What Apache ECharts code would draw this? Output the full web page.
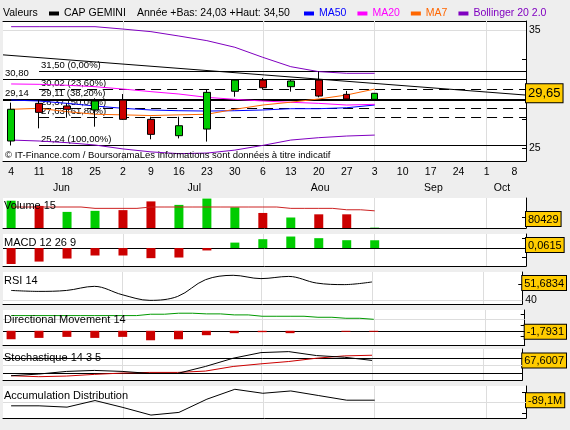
<!DOCTYPE html>
<html>
<head>
<meta charset="utf-8">
<script src="https://cdn.jsdelivr.net/npm/echarts@6/dist/echarts.min.js"></script>
<style>
html, body { margin: 0; padding: 0; background: #eeeeee; }
#chart { width: 570px; height: 430px; }
</style>
</head>
<body>
<div id="chart"></div>
<script>
// semaines affichées (lundi), juin -> octobre
const dayLabels = ['4', '11', '18', '25', '2', '9', '16', '23', '30', '6', '13', '20', '27', '3', '10', '17', '24', '1', '8']
const months = ['Jun', 'Jul', 'Aou', 'Sep', 'Oct']
const monthPos = [1.8, 6.55, 11.05, 15.1, 17.55]
const monthStarts = [4, 9, 13, 17]

// bougies hebdo CAP GEMINI
const open = [25.62, 28.80, 28.58, 28.24, 29.08, 27.45, 26.07, 26.63, 29.82, 30.77, 30.21, 30.77, 29.56, 29.14]
const close = [28.30, 28.04, 28.30, 29.00, 27.45, 26.18, 26.91, 29.73, 30.77, 30.12, 30.69, 29.42, 29.17, 29.65]
const low = [25.24, 26.69, 27.59, 26.83, 27.40, 25.76, 25.84, 25.57, 29.36, 29.95, 29.79, 29.31, 29.15, 29.10]
const high = [28.86, 29.08, 28.80, 29.23, 29.59, 27.67, 27.67, 29.93, 30.80, 30.95, 30.77, 31.50, 29.85, 29.67]

// moyennes mobiles / bollinger
const ma50 = [29.08, 29.00, 28.80, 28.58, 28.38, 28.24, 28.18, 28.15, 28.18, 28.24, 28.35, 28.35, 28.43, 28.66]
const ma20 = [30.44, 30.41, 30.33, 30.21, 30.01, 29.79, 29.59, 29.31, 29.14, 29.00, 28.89, 28.80, 28.66, 28.72]
const ma7 = [28.30, 28.38, 28.10, 27.88, 27.83, 27.77, 27.83, 27.88, 28.30, 28.66, 28.90, 29.17, 29.51, 30.01]
const bollUp = [35.28, 35.28, 35.28, 35.28, 35.08, 34.86, 34.49, 34.10, 33.54, 32.69, 31.90, 31.48, 31.34, 31.34]
const bollDown = [25.70, 25.62, 25.48, 25.28, 24.95, 24.70, 24.55, 24.60, 24.85, 25.25, 25.70, 25.90, 26.04, 26.12]

// niveaux tracés
const fibLevels = [31.50, 30.02, 29.11, 28.37, 27.63, 25.24]
const fibPct = ['0,00', '23,60', '38,20', '50,00', '61,80', '100,00']
const fibDashed = [false, true, true, true, true, false]
const supports = [30.80, 29.14]
const trend = [32.9, 29.5] // debut / fin de l'oblique

// indicateurs
const volume = [6190, 5000, 3650, 3890, 4050, 6030, 5240, 6670, 4680, 3410, 2380, 3100, 3100, 80.429] // en K
const volMa = [4760, 4760, 4760, 4450, 4450, 4760, 4760, 4760, 4760, 4760, 4450, 4450, 4130, 3890]
const macd = [-0.126, -0.107, -0.083, -0.059, -0.059, -0.080, -0.075, -0.019, 0.043, 0.070, 0.091, 0.078, 0.062, 0.0615]
const rsi = [46.3, 45.7, 46.3, 48.9, 43.6, 40.0, 42.5, 53.1, 55.9, 53.8, 55.2, 51.0, 50.0, 51.6834]
const dmHist = [-15, -12.6, -10.8, -12.6, -10.8, -16.8, -15, -7.8, -4.2, -2.4, -4.2, 0, -1.8, -1.7931]
const adx = [27, 27, 27, 27, 27, 29.4, 31.2, 30, 28.2, 25.8, 25.8, 24, 22.2, 20.4]
const stochK = [16.1, 21.7, 30.6, 33.9, 30.6, 23.9, 23.9, 47.2, 75, 93.9, 97.2, 83.9, 78.3, 67.6007]
const stochD = [16.1, 12.8, 15, 20.6, 25, 27.2, 27.2, 31.7, 47.2, 56.1, 63.9, 75, 82.8, 85]
const accDist = [-116.1, -116.1, -122.4, -90.7, -124.0, -160.5, -147.8, -84.3, -36.7, -55.8, -44.7, -66.9, -89.1, -89.1] // en M

const XMIN = -0.29
const XMAX = 18.41
const FONT = 'Liberation Sans'
const GREEN = '#00CC00'
const RED = '#CC0000'

const GRIDS = [
    { top: 21, height: 140 },
    { top: 198, height: 30 },
    { top: 234, height: 32 },
    { top: 272, height: 32 },
    { top: 310, height: 35 },
    { top: 349, height: 31 },
    { top: 386, height: 32 },
]

const fr = (v, d) => v.toFixed(d).replace('.', ',')
const last = (arr) => arr[arr.length - 1]
const pts = (arr) => arr.map((v, i) => [i, v])

const RICH = {
    t: { fontFamily: FONT, fontSize: 10.5, color: '#000', padding: [0, 0, 0, 3] },
    box: {
        fontFamily: FONT, fontSize: 11, color: '#000', backgroundColor: '#FFCC00',
        borderColor: '#000', borderWidth: 1, padding: [2, 2, 1, 2],
    },
    big: {
        fontFamily: FONT, fontSize: 13, color: '#000', backgroundColor: '#FFCC00',
        borderColor: '#000', borderWidth: 1, padding: [3, 2, 2, 2],
    },
}

// garde l'étiquette de la dernière valeur dans le panneau
function boxPos(v, min, max, h) {
    const ppu = h / (max - min)
    return Math.min(Math.max(v, min + 9 / ppu), max - 11 / ppu)
}

function xAxisFor(gi) {
    return {
        gridIndex: gi, type: 'value', min: XMIN, max: XMAX,
        axisLine: { show: true, onZero: false, lineStyle: { color: '#000', width: 1 } },
        axisTick: { show: false },
        axisLabel: { show: false },
        splitLine: { show: false },
    }
}

function yAxisFor(gi, p) {
    const pos = boxPos(p.box, p.min, p.max, GRIDS[gi].height)
    return {
        gridIndex: gi, type: 'value', position: 'right', min: p.min, max: p.max,
        axisLine: { show: true, onZero: false, lineStyle: { color: '#000' } },
        axisTick: { show: true, inside: true, length: 4, customValues: p.ticks, lineStyle: { color: '#000' } },
        axisLabel: {
            margin: 0,
            hideOverlap: false,
            customValues: p.labels.concat([pos]),
            formatter: (v) => {
                if (Math.abs(v - pos) < 1e-9) {
                    return `{${p.big ? 'big' : 'box'}|${p.boxText}}`
                }
                return `{t|${p.fmt ? p.fmt(v) : v}}`
            },
            rich: RICH,
        },
        splitLine: { show: false },
    }
}

const gray = { color: '#DDDDDD', width: 1, type: 'solid' }
const black = { color: '#000', width: 1, type: 'solid' }

function guides(gi, xi, lines) {
    return {
        type: 'line', xAxisIndex: xi, yAxisIndex: gi, data: [], silent: true, z: 1,
        markLine: {
            silent: true, symbol: 'none', animation: false, z: 1,
            label: { show: false },
            data: lines,
        },
    }
}

const vLines = monthStarts.map((v) => ({ xAxis: v, lineStyle: gray }))
const hLine = (v, style) => ({ yAxis: v, lineStyle: style })

// lignes du panneau principal
const mainLines = vLines.concat([hLine(35, gray)])
supports.forEach((s, i) => {
    mainLines.push({
        yAxis: s,
        lineStyle: { color: '#000', width: i === 1 ? 2 : 1, type: 'solid' },
        label: {
            show: true, position: 'insideStartTop', formatter: fr(s, 2),
            color: '#000', fontFamily: FONT, fontSize: 9.5, distance: [2, 1],
        },
    })
})
fibLevels.forEach((l, i) => {
    mainLines.push([
        {
            coord: [1, l],
            lineStyle: { color: '#000', width: 1, type: fibDashed[i] ? [10, 6] : 'solid' },
            label: {
                show: true, position: 'insideStartTop', formatter: `${fr(l, 2)} (${fibPct[i]}%)`,
                color: '#000', fontFamily: FONT, fontSize: 9.5, distance: [2, 1],
            },
        },
        { coord: [XMAX, l] },
    ])
})

// couleur du volume : hausse / baisse par rapport à la clôture précédente
const volColor = close.map((c, i) => (i === 0 ? c >= open[i] : c >= close[i - 1]) ? GREEN : RED)

const lineS = (name, xi, yi, data, color, extra) => Object.assign({
    name, type: 'line', xAxisIndex: xi, yAxisIndex: yi, data,
    symbol: 'none', lineStyle: { color, width: 1 }, itemStyle: { color }, z: 3,
}, extra || {})

const chart = echarts.init(document.getElementById('chart'))

const option = {
    animation: false,
    backgroundColor: '#EEEEEE',
    textStyle: { fontFamily: FONT },
    legend: [
        {
            left: 49, top: 8, padding: 0, itemWidth: 10, itemHeight: 4, itemGap: 12, selectedMode: false,
            textStyle: { fontSize: 10.5, color: '#000', fontFamily: FONT },
            data: [{ name: 'CAP GEMINI', icon: 'rect', itemStyle: { color: '#000', borderWidth: 0 } }],
        },
        {
            left: 304, top: 8, padding: 0, itemWidth: 10, itemHeight: 4, itemGap: 11, selectedMode: false,
            textStyle: { fontSize: 10.5, fontFamily: FONT },
            data: [
                { name: 'MA50', icon: 'rect', textStyle: { color: '#0000FF' } },
                { name: 'MA20', icon: 'rect', textStyle: { color: '#FF00FF' } },
                { name: 'MA7', icon: 'rect', textStyle: { color: '#FF6600' } },
                { name: 'Bollinger 20 2.0', icon: 'rect', textStyle: { color: '#8000C0' } },
            ],
        },
    ],
    grid: GRIDS.map((g) => ({
        left: 3, right: 44, top: g.top, height: g.height,
        show: true, backgroundColor: '#fff', borderWidth: 0,
    })),
    xAxis: [
        {
            gridIndex: 0, type: 'value', min: XMIN, max: XMAX, position: 'bottom',
            axisLine: { show: true, onZero: false, lineStyle: { color: '#000' } },
            axisTick: { show: false },
            axisLabel: {
                customValues: dayLabels.map((d, i) => i),
                formatter: (v) => dayLabels[Math.round(v)],
                margin: 6, fontSize: 10.5, color: '#000', fontFamily: FONT,
            },
            splitLine: { show: false },
        },
        {
            gridIndex: 0, type: 'value', min: XMIN, max: XMAX, position: 'bottom', offset: 16,
            axisLine: { show: false },
            axisTick: { show: false },
            axisLabel: {
                customValues: monthPos,
                formatter: (v) => months[monthPos.indexOf(v)],
                margin: 6, fontSize: 10.5, color: '#000', fontFamily: FONT,
            },
            splitLine: { show: false },
        },
        Object.assign(xAxisFor(0), { position: 'top' }),
        xAxisFor(1), xAxisFor(2), xAxisFor(3), xAxisFor(4), xAxisFor(5), xAxisFor(6),
    ],
    yAxis: [
        yAxisFor(0, {
            min: 23.93, max: 35.76, ticks: [25, 27.5, 30, 32.5, 35], labels: [25, 35],
            box: last(close), boxText: fr(last(close), 2), big: true,
        }),
        yAxisFor(1, {
            min: 0, max: 6800, ticks: [2500, 5000], labels: [5000], fmt: (v) => v + 'K',
            box: last(volume), boxText: String(Math.round(last(volume) * 1000)),
        }),
        yAxisFor(2, {
            min: -0.142, max: 0.111, ticks: [-0.075, 0, 0.075], labels: [],
            box: last(macd), boxText: fr(last(macd), 4),
        }),
        yAxisFor(3, {
            min: 37.7, max: 58, ticks: [40, 50], labels: [40],
            box: last(rsi), boxText: fr(last(rsi), 4),
        }),
        yAxisFor(4, {
            min: -25.2, max: 36.9, ticks: [-10, 0, 10, 20, 30], labels: [],
            box: last(dmHist), boxText: fr(last(dmHist), 4),
        }),
        yAxisFor(5, {
            min: 1.7, max: 106, ticks: [25, 50, 75], labels: [],
            box: last(stochK), boxText: fr(last(stochK), 4),
        }),
        yAxisFor(6, {
            min: -174.6, max: -20.9, ticks: [-150, -100, -50], labels: [],
            box: last(accDist), boxText: fr(last(accDist), 1) + 'M',
        }),
    ],
    series: [
        // repères
        guides(0, 0, mainLines),
        guides(1, 3, vLines.slice()),
        guides(2, 4, vLines.concat([hLine(0, black)])),
        guides(3, 5, vLines.concat([hLine(40, gray)])),
        guides(4, 6, vLines.concat([hLine(20, gray), hLine(0, black)])),
        guides(5, 7, vLines.concat([hLine(50, gray), hLine(75, black), hLine(25, black)])),
        guides(6, 8, vLines.concat([hLine(-100, gray)])),

        // panneau cours
        lineS('trend', 0, 0, [[XMIN, trend[0]], [XMAX, trend[1]]], '#000'),
        lineS('Bollinger 20 2.0', 0, 0, pts(bollUp), '#8000C0'),
        lineS('Bollinger 20 2.0', 0, 0, pts(bollDown), '#8000C0'),
        lineS('MA50', 0, 0, pts(ma50), '#0000FF'),
        lineS('MA20', 0, 0, pts(ma20), '#FF00FF'),
        lineS('MA7', 0, 0, pts(ma7), '#FF6600'),
        {
            name: 'CAP GEMINI', type: 'candlestick', xAxisIndex: 0, yAxisIndex: 0, z: 5,
            barWidth: 7,
            encode: { x: 0, y: [1, 2, 3, 4] },
            data: open.map((o, i) => [i, o, close[i], low[i], high[i]]),
            itemStyle: {
                color: GREEN, color0: RED,
                borderColor: '#000', borderColor0: '#000', borderWidth: 1,
            },
        },

        // volume
        {
            type: 'bar', xAxisIndex: 3, yAxisIndex: 1, barWidth: 9, z: 2,
            data: volume.map((v, i) => ({ value: [i, v], itemStyle: { color: volColor[i] } })),
        },
        lineS('Volume 15', 3, 1, pts(volMa), '#CC2222', { step: 'middle' }),

        // MACD
        {
            type: 'bar', xAxisIndex: 4, yAxisIndex: 2, barWidth: 9, z: 2,
            data: macd.map((v, i) => ({ value: [i, v], itemStyle: { color: v >= 0 ? GREEN : RED } })),
        },

        // RSI
        lineS('RSI 14', 5, 3, pts(rsi), '#000', { smooth: 0.35 }),

        // directional movement
        {
            type: 'bar', xAxisIndex: 6, yAxisIndex: 4, barWidth: 9, z: 2,
            data: dmHist.map((v, i) => ({ value: [i, v], itemStyle: { color: v >= 0 ? GREEN : RED } })),
        },
        lineS('ADX', 6, 4, pts(adx), '#009900', { step: 'middle' }),

        // stochastique
        lineS('%D', 7, 5, pts(stochD), '#CC0000'),
        lineS('%K', 7, 5, pts(stochK), '#000'),

        // accumulation distribution
        lineS('A/D', 8, 6, pts(accDist), '#000'),
    ],
    graphic: [
        { type: 'text', left: 3, top: 8, z: 100, style: { text: 'Valeurs', font: `10.5px "${FONT}"`, fill: '#000' } },
        { type: 'text', left: 137, top: 8, z: 100, style: { text: 'Année +Bas: 24,03 +Haut: 34,50', font: `10.5px "${FONT}"`, fill: '#000' } },
        {
            type: 'text', left: 5, top: 150, z: 100,
            style: { text: '© IT-Finance.com / BoursoramaLes informations sont données à titre indicatif', font: `9.5px "${FONT}"`, fill: '#000' },
        },
        { type: 'text', left: 4, top: 200, z: 100, style: { text: 'Volume 15', font: `11px "${FONT}"`, fill: '#000' } },
        { type: 'text', left: 4, top: 237, z: 100, style: { text: 'MACD 12 26 9', font: `11px "${FONT}"`, fill: '#000' } },
        { type: 'text', left: 4, top: 275, z: 100, style: { text: 'RSI 14', font: `11px "${FONT}"`, fill: '#000' } },
        { type: 'text', left: 4, top: 314, z: 100, style: { text: 'Directional Movement 14', font: `11px "${FONT}"`, fill: '#000' } },
        { type: 'text', left: 4, top: 352, z: 100, style: { text: 'Stochastique 14 3 5', font: `11px "${FONT}"`, fill: '#000' } },
        { type: 'text', left: 4, top: 390, z: 100, style: { text: 'Accumulation Distribution', font: `11px "${FONT}"`, fill: '#000' } },
    ],
}

chart.setOption(option)
</script>
</body>
</html>
